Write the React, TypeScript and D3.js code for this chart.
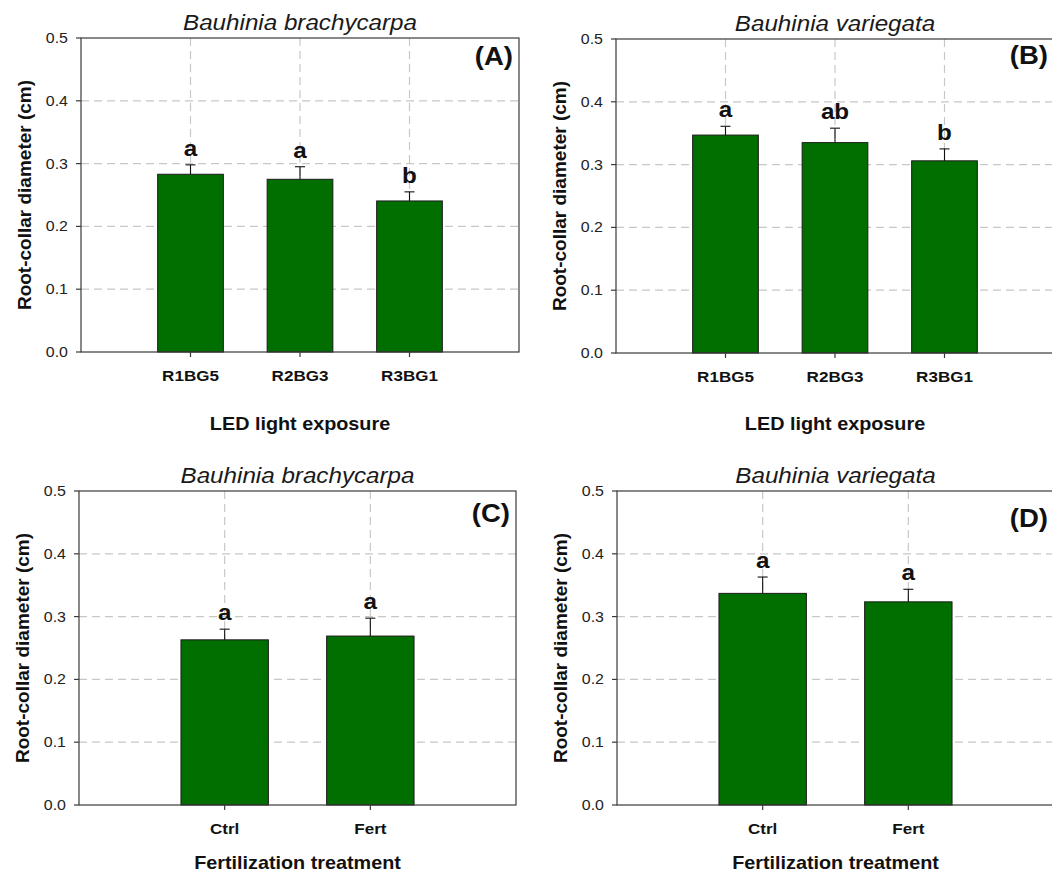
import React from "react";
import * as d3 from "d3";

// ---- data ----
const lightCategories = ["R1BG5", "R2BG3", "R3BG1"];
const fertCategories = ["Ctrl", "Fert"];

const brachyLightMeans = [0.283, 0.275, 0.2405];
const brachyLightSE = [0.015, 0.02, 0.0145];
const brachyLightLetters = ["a", "a", "b"];

const variegLightMeans = [0.347, 0.335, 0.306];
const variegLightSE = [0.014, 0.023, 0.019];
const variegLightLetters = ["a", "ab", "b"];

const brachyFertMeans = [0.263, 0.269];
const brachyFertSE = [0.017, 0.0285];
const brachyFertLetters = ["a", "a"];

const variegFertMeans = [0.337, 0.3235];
const variegFertSE = [0.026, 0.02];
const variegFertLetters = ["a", "a"];

const yTicks = [0, 0.1, 0.2, 0.3, 0.4, 0.5];
const yTitle = "Root-collar diameter (cm)";

const FONT = "'Liberation Sans', Arial, Helvetica, sans-serif";
const BAR_FILL = "#006f00";
const GRID = "#c8c8c8";
const AXIS = "#3a3a3a";
const SX = 1.1;

const panels = [
  {
    title: "Bauhinia brachycarpa", label: "(A)", cats: lightCategories,
    means: brachyLightMeans, se: brachyLightSE, letters: brachyLightLetters,
    xTitle: "LED light exposure", l: 81, r: 519, t: 38, b: 352, xTitleDy: 78, labelDy: 27,
  },
  {
    title: "Bauhinia variegata", label: "(B)", cats: lightCategories,
    means: variegLightMeans, se: variegLightSE, letters: variegLightLetters,
    xTitle: "LED light exposure", l: 616, r: 1054, t: 39, b: 353, xTitleDy: 77, labelDy: 25,
  },
  {
    title: "Bauhinia brachycarpa", label: "(C)", cats: fertCategories,
    means: brachyFertMeans, se: brachyFertSE, letters: brachyFertLetters,
    xTitle: "Fertilization treatment", l: 79, r: 516, t: 491, b: 805, xTitleDy: 64, labelDy: 31,
  },
  {
    title: "Bauhinia variegata", label: "(D)", cats: fertCategories,
    means: variegFertMeans, se: variegFertSE, letters: variegFertLetters,
    xTitle: "Fertilization treatment", l: 617, r: 1054, t: 491, b: 805, xTitleDy: 64, labelDy: 36,
  },
];

function T(props: any) {
  const { x, y, size, weight, italic, anchor, fill, children, sx } = props;
  return (
    <text
      transform={`translate(${x},${y}) scale(${sx ?? SX},1)`}
      fontFamily={FONT}
      fontSize={size}
      fontWeight={weight || "normal"}
      fontStyle={italic ? "italic" : "normal"}
      textAnchor={anchor || "middle"}
      fill={fill || "#111"}
    >
      {children}
    </text>
  );
}

function Panel({ p }: { p: any }) {
  const x = d3.scalePoint<string>().domain(p.cats).range([p.l, p.r]).padding(1);
  const y = d3.scaleLinear().domain([0, 0.5]).range([p.b, p.t]);
  const step = x.step();
  const bw = step * 0.6;
  const fmt = d3.format(".1f");
  const cx = (p.l + p.r) / 2;
  const cy = (p.t + p.b) / 2;
  return (
    <g>
      {/* grid */}
      {yTicks.filter((v) => v > 0 && v < 0.5).map((v) => (
        <line key={"h" + v} x1={p.l} x2={p.r} y1={y(v)} y2={y(v)} stroke={GRID} strokeWidth={1.2} strokeDasharray="8,5" />
      ))}
      {p.cats.map((c: string) => (
        <line key={"v" + c} x1={x(c)} x2={x(c)} y1={p.t} y2={p.b} stroke={GRID} strokeWidth={1.2} strokeDasharray="8,5" />
      ))}
      {/* bars */}
      {p.cats.map((c: string, i: number) => (
        <rect key={"b" + c} x={(x(c) as number) - bw / 2} y={y(p.means[i])} width={bw} height={p.b - y(p.means[i])}
          fill={BAR_FILL} stroke="#1a1a1a" strokeWidth={1} />
      ))}
      {/* error bars */}
      {p.cats.map((c: string, i: number) => {
        const xc = x(c) as number;
        const yt = y(p.means[i] + p.se[i]);
        return (
          <g key={"e" + c} stroke="#111" strokeWidth={1.1}>
            <line x1={xc} x2={xc} y1={y(p.means[i])} y2={yt} />
            <line x1={xc - 5} x2={xc + 5} y1={yt} y2={yt} />
          </g>
        );
      })}
      {/* letters */}
      {p.cats.map((c: string, i: number) => (
        <T key={"l" + c} x={x(c)} y={y(p.means[i] + p.se[i]) - 9} size={22} weight="bold">{p.letters[i]}</T>
      ))}
      {/* frame */}
      <rect x={p.l} y={p.t} width={p.r - p.l} height={p.b - p.t} fill="none" stroke={AXIS} strokeWidth={1.2} />
      {/* y ticks */}
      {yTicks.map((v) => (
        <g key={"yt" + v}>
          <line x1={p.l - 5} x2={p.l} y1={y(v)} y2={y(v)} stroke={AXIS} strokeWidth={1.2} />
          <T x={p.l - 13} y={y(v) + 5} size={14.5} anchor="end" fill="#222">{fmt(v)}</T>
        </g>
      ))}
      {/* x ticks */}
      {p.cats.map((c: string) => (
        <g key={"xt" + c}>
          <line x1={x(c)} x2={x(c)} y1={p.b} y2={p.b + 5} stroke={AXIS} strokeWidth={1.2} />
          <T x={x(c)} y={p.b + 29} size={15.5} weight="bold">{c}</T>
        </g>
      ))}
      {/* titles */}
      <T x={cx} y={p.t - 8} size={22} italic fill="#1a1a1a">{p.title}</T>
      <T x={p.r - 6} y={p.t + p.labelDy} size={25} weight="bold" anchor="end">{p.label}</T>
      <T x={cx} y={p.b + p.xTitleDy} size={18} weight="bold">{p.xTitle}</T>
      <text transform={`translate(${p.l - 50},${cy}) rotate(-90)`} fontFamily={FONT} fontSize={19}
        fontWeight="bold" textAnchor="middle" fill="#111">{yTitle}</text>
    </g>
  );
}

export default function App() {
  return (
    <svg width={1052} height={872} style={{ position: "absolute", left: 0, top: 0, background: "#fff" }}>
      <rect x={0} y={0} width={1052} height={872} fill="#fff" />
      {panels.map((p, i) => (
        <Panel key={i} p={p} />
      ))}
    </svg>
  );
}
